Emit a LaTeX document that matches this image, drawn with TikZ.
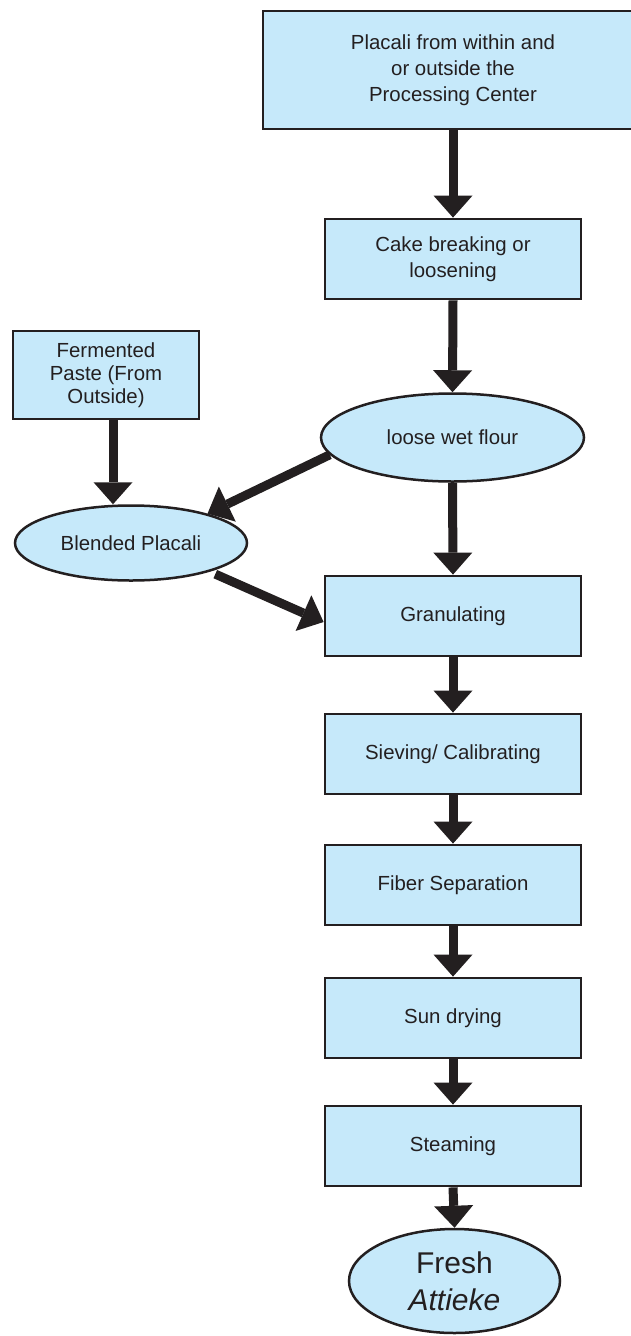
\documentclass[tikz,border=0pt]{standalone}
\usepackage{fontspec}
\setmainfont{Liberation Sans}
\usetikzlibrary{shapes.geometric,arrows.meta}
\definecolor{boxfill}{HTML}{C6E9FA}
\definecolor{ink}{HTML}{231F20}
\begin{document}
\begin{tikzpicture}[x=1pt,y=-1pt,
  procbox/.style={draw=ink,line width=2.8pt,fill=boxfill,minimum width=256pt,minimum height=80pt,inner sep=0pt,align=center,font=\fontsize{20.4}{26}\selectfont,text=ink},
  oval/.style={ellipse,draw=ink,line width=2.5pt,fill=boxfill,inner sep=0pt,align=center,font=\fontsize{20.4}{26}\selectfont,text=ink},
  flow/.style={draw=ink,line width=9pt,-{Triangle[width=39pt,length=22pt,line width=0pt]}}]
\useasboundingbox (0,0) rectangle (630,1336);
\fill[white] (0,0) rectangle (630,1336);

\node[procbox,minimum width=380pt,minimum height=118pt] (top) at (453,70) {Placali from within and\\or outside the\\Processing Center};
\node[procbox] (cake) at (453,259) {Cake breaking or\\loosening};
\node[procbox,minimum width=186pt,minimum height=88pt,font=\fontsize{20.4}{23}\selectfont] (ferm) at (106,375) {Fermented\\Paste (From\\Outside)};
\node[oval,minimum width=263pt,minimum height=88pt] (loose) at (452.5,437.5) {loose wet flour};
\node[oval,minimum width=232pt,minimum height=75pt] (blend) at (131,543) {Blended Placali};
\node[procbox] (gran) at (453,616) {Granulating};
\node[procbox] (siev) at (453,754) {Sieving/ Calibrating};
\node[procbox] (fiber) at (453,885) {Fiber Separation};
\node[procbox] (sun) at (453,1018) {Sun drying};
\node[procbox] (steam) at (453,1146) {Steaming};
\node[oval,minimum width=211pt,minimum height=104pt,font=\fontsize{30}{37}\selectfont] (fresh) at (454.5,1281) {Fresh\\\textit{Attieke}};

\draw[flow] (top.south -| cake.north) -- (cake.north);
\draw[flow] (cake.south) -- (loose.north);
\draw[flow] (loose.south) -- (gran.north);
\draw[flow] ([xshift=7pt]ferm.south) -- ([xshift=7pt]ferm.south |- blend.north);
\draw[flow] (loose.188) -- (blend.21);
\draw[flow,shorten <=6pt] (blend.340) -- ([yshift=-6pt]gran.west);
\draw[flow] (gran.south) -- (siev.north);
\draw[flow] (siev.south) -- (fiber.north);
\draw[flow] (fiber.south) -- (sun.north);
\draw[flow] (sun.south) -- (steam.north);
\draw[flow] (steam.south) -- (fresh.north);
\end{tikzpicture}
\end{document}
